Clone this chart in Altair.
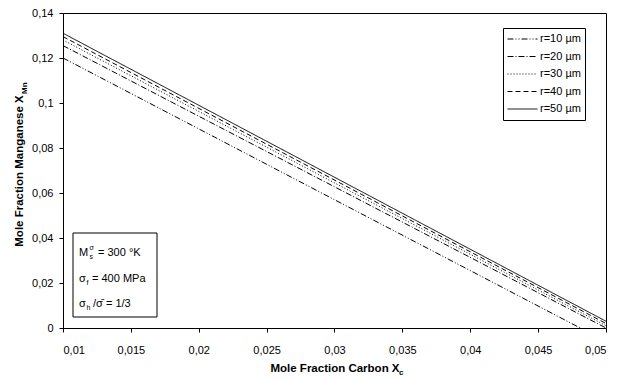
import altair as alt
import pandas as pd

# Series: line endpoints (carbon fraction, manganese fraction) per grain radius
radii = ["r=10 µm", "r=20 µm", "r=30 µm", "r=40 µm", "r=50 µm"]
x_start = [0.010, 0.010, 0.010, 0.010, 0.010]
y_start = [0.1200, 0.1255, 0.1280, 0.1295, 0.1310]
x_end = [0.0481, 0.0500, 0.0500, 0.0500, 0.0500]
y_end = [0.0000, 0.0000, 0.0010, 0.0020, 0.0030]
dashes = [[6, 2, 1, 2, 1, 2], [6, 2, 1, 2], [1, 2], [5, 3], [1, 0]]

x_ticks = [0.01, 0.015, 0.02, 0.025, 0.03, 0.035, 0.04, 0.045, 0.05]
y_ticks = [0, 0.02, 0.04, 0.06, 0.08, 0.1, 0.12, 0.14]

rows = []
for i, r in enumerate(radii):
    rows.append({"r": r, "xc": x_start[i], "xmn": y_start[i], "o": 0})
    rows.append({"r": r, "xc": x_end[i], "xmn": y_end[i], "o": 1})
df = pd.DataFrame(rows)

FONT = "Liberation Sans"
comma = "replace(format(datum.value, '~g'), '.', ',')"

lines = alt.Chart(df).mark_line(color="black", strokeWidth=1).encode(
    x=alt.X("xc:Q", scale=alt.Scale(domain=[0.01, 0.05], nice=False),
            axis=alt.Axis(values=x_ticks, labelExpr=comma, grid=False,
                          labelPadding=12, title="Mole Fraction Carbon X",
                          titleFontWeight="bold", titleFontSize=11.5,
                          titlePadding=7)),
    y=alt.Y("xmn:Q", scale=alt.Scale(domain=[0, 0.14], nice=False),
            axis=alt.Axis(values=y_ticks, labelExpr=comma, grid=False,
                          labelPadding=6, title="Mole Fraction Manganese X",
                          titleFontWeight="bold", titleFontSize=11.5,
                          titlePadding=7)),
    order="o:O",
    strokeDash=alt.StrokeDash(
        "r:N", scale=alt.Scale(domain=radii, range=dashes),
        legend=alt.Legend(title=None, orient="none", legendX=440, legendY=15,
                          strokeColor="black", padding=4, symbolType="stroke",
                          symbolSize=900, symbolStrokeWidth=1,
                          symbolStrokeColor="black", labelFontSize=11,
                          labelFont=FONT, labelColor="black", clipHeight=14,
                          rowPadding=3.5, labelOffset=2)),
)

# Subscripts for the axis titles
x_sub = alt.Chart(pd.DataFrame({"t": ["c"], "px": [336], "py": [360]})).mark_text(
    font=FONT, fontSize=8, fontWeight="bold", align="left", color="black"
).encode(x=alt.X("px:Q", scale=None), y=alt.Y("py:Q", scale=None), text="t:N")
y_sub = alt.Chart(pd.DataFrame({"t": ["Mn"], "px": [-38], "py": [81]})).mark_text(
    font=FONT, fontSize=8, fontWeight="bold", align="left", angle=270,
    color="black"
).encode(x=alt.X("px:Q", scale=None), y=alt.Y("py:Q", scale=None), text="t:N")

# Parameter box in the lower left corner
box = alt.Chart(pd.DataFrame({"a": [0]})).mark_rect(
    fill="white", stroke="black", strokeWidth=1
).encode(x=alt.value(10), x2=alt.value(94), y=alt.value(220), y2=alt.value(304))

params = pd.DataFrame({
    "t": ["M", "= 300 °K", "σ", "= 400 MPa", "σ", "/σ̄ = 1/3"],
    "px": [16, 35, 16, 29, 16, 30],
    "py": [240, 240, 266, 266, 291, 291],
})
param_txt = alt.Chart(params).mark_text(
    font=FONT, fontSize=11, align="left", baseline="middle", color="black"
).encode(x=alt.X("px:Q", scale=None), y=alt.Y("py:Q", scale=None), text="t:N")

small = pd.DataFrame({
    "t": ["s", "σ", "f", "h"],
    "px": [26.5, 26.5, 23.5, 23.5],
    "py": [244, 235, 270, 295],
})
small_txt = alt.Chart(small).mark_text(
    font=FONT, fontSize=7, align="left", baseline="middle", color="black"
).encode(x=alt.X("px:Q", scale=None), y=alt.Y("py:Q", scale=None), text="t:N")

chart = alt.layer(lines, box, param_txt, small_txt, x_sub, y_sub).properties(
    width=543, height=315, background="white",
    padding={"left": 63, "top": 13, "right": 12, "bottom": 51},
    autosize=alt.AutoSizeParams(type="none"),
).configure_view(stroke="black", strokeWidth=1).configure_axis(
    grid=False, domainColor="black", tickColor="black", tickSize=4,
    labelFont=FONT, titleFont=FONT, labelFontSize=11, labelColor="black",
    titleColor="black",
)

chart.save("out.html", embed_options={"renderer": "svg", "actions": False})
